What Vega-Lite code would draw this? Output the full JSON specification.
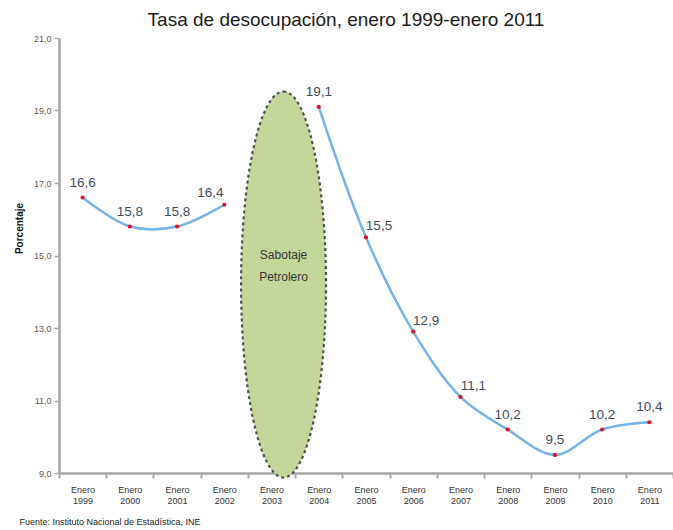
{
  "$schema": "https://vega.github.io/schema/vega-lite/v6.json",
  "width": 614,
  "height": 435,
  "autosize": {"type": "none"},
  "padding": {"left": 59, "top": 38, "right": 0, "bottom": 57},
  "background": "white",
  "config": {
    "view": {"stroke": null},
    "font": "Liberation Sans",
    "locale": {"number": {"decimal": ",", "thousands": ".", "grouping": [3], "currency": ["", " €"]}}
  },
  "title": {
    "text": "Tasa de desocupación, enero 1999-enero 2011",
    "fontSize": 19,
    "fontWeight": "normal",
    "font": "Liberation Sans",
    "color": "#1a1a1a",
    "anchor": "middle",
    "frame": "group",
    "offset": 4,
    "dx": -20
  },
  "datasets": {
    "main": [
      {"year": "1999", "value": 16.6, "seg": "a"},
      {"year": "2000", "value": 15.8, "seg": "a"},
      {"year": "2001", "value": 15.8, "seg": "a"},
      {"year": "2002", "value": 16.4, "seg": "a"},
      {"year": "2004", "value": 19.1, "seg": "b"},
      {"year": "2005", "value": 15.5, "seg": "b"},
      {"year": "2006", "value": 12.9, "seg": "b"},
      {"year": "2007", "value": 11.1, "seg": "b"},
      {"year": "2008", "value": 10.2, "seg": "b"},
      {"year": "2009", "value": 9.5, "seg": "b"},
      {"year": "2010", "value": 10.2, "seg": "b"},
      {"year": "2011", "value": 10.4, "seg": "b"}
    ],
    "note": [
      {"year": "2003", "center": 14.2, "label": "Sabotaje\nPetrolero"}
    ]
  },
  "encoding": {
    "x": {
      "field": "year",
      "type": "nominal",
      "sort": null,
      "scale": {"domain": ["1999","2000","2001","2002","2003","2004","2005","2006","2007","2008","2009","2010","2011"], "paddingInner": 0, "paddingOuter": 0},
      "axis": {
        "title": "Fuente: Instituto Nacional de Estadística, INE",
        "titleFontSize": 9,
        "titleFontWeight": "normal",
        "titleColor": "#222222",
        "titleAnchor": "start",
        "titleAlign": "left",
        "titleX": -40,
        "titleY": 53,
        "titleBaseline": "bottom",
        "labelAngle": 0,
        "labelFlush": false,
        "labelOverlap": false,
        "labelExpr": "datum.value ? ['Enero', datum.value] : ''",
        "labelFontSize": 9,
        "labelLineHeight": 11,
        "labelColor": "#333333",
        "labelPadding": 7,
        "tickBand": "extent",
        "tickSize": 5,
        "tickWidth": 2,
        "tickColor": "#a6a6a6",
        "domainColor": "#a6a6a6",
        "domainWidth": 2.5
      }
    }
  },
  "layer": [
    {
      "data": {"name": "note"},
      "mark": {"type": "point", "shape": "M0,-1 A0.22,1 0 1,1 0,1 A0.22,1 0 1,1 0,-1 Z", "size": 148996, "fill": "#c4d79b", "stroke": "#505050", "strokeWidth": 2.2, "strokeDash": [3, 3], "opacity": 1, "fillOpacity": 1, "xOffset": 12, "clip": false},
      "encoding": {
        "y": {"field": "center", "type": "quantitative"}
      }
    },
    {
      "data": {"name": "note"},
      "mark": {"type": "text", "lineBreak": "\n", "fontSize": 12, "color": "#333333", "xOffset": 12, "dy": -30, "lineHeight": 22, "baseline": "middle"},
      "encoding": {
        "y": {"field": "center", "type": "quantitative"},
        "text": {"field": "label"}
      }
    },
    {
      "data": {"name": "main"},
      "mark": {"type": "line", "interpolate": "catmull-rom", "color": "#74b3e8", "strokeWidth": 2.5},
      "encoding": {
        "y": {
          "field": "value",
          "type": "quantitative",
          "scale": {"domain": [9, 21], "nice": false, "zero": false},
          "axis": {
            "title": "Porcentaje",
            "titleFontSize": 10,
            "titleFontWeight": "bold",
            "titleColor": "#111111",
            "titleAngle": -90,
            "titleX": -35,
            "titleY": 190,
            "titleAlign": "center",
            "titleBaseline": "bottom",
            "values": [9, 11, 13, 15, 17, 19, 21],
            "format": ".1f",
            "labelFontSize": 9,
            "labelColor": "#595959",
            "labelPadding": 3,
            "grid": false,
            "tickSize": 5,
            "tickWidth": 1.5,
            "tickColor": "#a6a6a6",
            "domainColor": "#a6a6a6",
            "domainWidth": 2.5
          }
        },
        "detail": {"field": "seg"}
      }
    },
    {
      "data": {"name": "main"},
      "mark": {"type": "point", "filled": true, "color": "#e0102a", "size": 18, "opacity": 1},
      "encoding": {
        "y": {"field": "value", "type": "quantitative"}
      }
    },
    {
      "data": {"name": "main"},
      "transform": [{"filter": "indexof(['1999','2000','2001','2004','2008','2009','2010','2011'], datum.year) >= 0"}],
      "mark": {"type": "text", "fontSize": 13.5, "color": "#3e4d5e", "dy": -15, "baseline": "middle"},
      "encoding": {
        "y": {"field": "value", "type": "quantitative"},
        "text": {"field": "value", "type": "quantitative", "format": ".1f"}
      }
    },
    {
      "data": {"name": "main"},
      "transform": [{"filter": "datum.year == '2002'"}],
      "mark": {"type": "text", "fontSize": 13.5, "color": "#3e4d5e", "dy": -12, "dx": -14, "baseline": "middle"},
      "encoding": {
        "y": {"field": "value", "type": "quantitative"},
        "text": {"field": "value", "type": "quantitative", "format": ".1f"}
      }
    },
    {
      "data": {"name": "main"},
      "transform": [{"filter": "indexof(['2005','2006','2007'], datum.year) >= 0"}],
      "mark": {"type": "text", "fontSize": 13.5, "color": "#3e4d5e", "dy": -11, "dx": 13, "baseline": "middle"},
      "encoding": {
        "y": {"field": "value", "type": "quantitative"},
        "text": {"field": "value", "type": "quantitative", "format": ".1f"}
      }
    }
  ]
}
